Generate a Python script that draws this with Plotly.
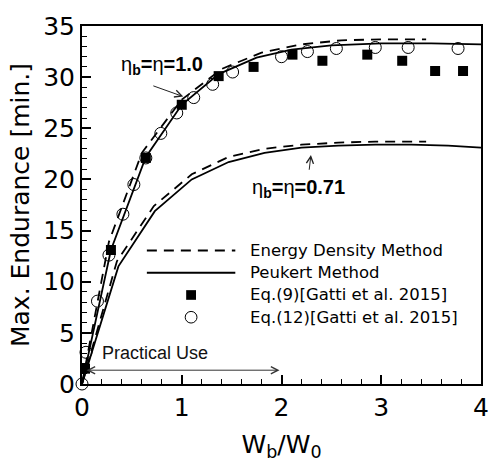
import plotly.graph_objects as go

# ---------------- data ----------------
# Eq.(9) [Gatti et al. 2015]  (filled squares)
eq9_x = [0.03, 0.29, 0.64, 1.00, 1.37, 1.72, 2.11, 2.41, 2.86, 3.21, 3.54, 3.82]
eq9_y = [1.5, 13.1, 22.1, 27.3, 30.1, 31.0, 32.2, 31.6, 32.2, 31.6, 30.6, 30.6]

# Eq.(12) [Gatti et al. 2015]  (open circles)
eq12_x = [0.0, 0.04, 0.155, 0.27, 0.41, 0.52, 0.64, 0.79, 0.95, 1.12, 1.31, 1.51,
          2.00, 2.26, 2.55, 2.94, 3.27, 3.77]
eq12_y = [0.0, 3.1, 8.1, 12.6, 16.6, 19.5, 22.1, 24.5, 26.5, 28.0, 29.3, 30.5,
          32.0, 32.5, 32.8, 32.9, 32.9, 32.8]

# Peukert method, eta_b = eta = 1.0 (solid)
pk1_x = [0.0, 0.29, 0.64, 1.00, 1.37, 1.75, 2.10, 2.50, 3.00, 3.50, 4.00]
pk1_y = [0.0, 13.1, 22.2, 27.3, 30.3, 31.9, 32.7, 33.1, 33.3, 33.3, 33.2]

# Energy density method, eta_b = eta = 1.0 (dashed)
ed1_x = [0.0, 0.27, 0.60, 1.00, 1.40, 1.80, 2.20, 2.60, 3.00, 3.45]
ed1_y = [0.0, 13.9, 22.6, 27.8, 30.8, 32.4, 33.2, 33.6, 33.7, 33.7]

# Peukert method, eta_b = eta = 0.71 (solid)
pk2_x = [0.0, 0.365, 0.73, 1.10, 1.47, 1.83, 2.20, 2.57, 2.94, 3.30, 3.67, 4.00]
pk2_y = [0.0, 11.5, 16.9, 20.0, 21.7, 22.6, 23.1, 23.3, 23.4, 23.4, 23.3, 23.1]

# Energy density method, eta_b = eta = 0.71 (dashed)
ed2_x = [0.0, 0.35, 0.72, 1.10, 1.47, 1.83, 2.20, 2.57, 2.94, 3.30, 3.45]
ed2_y = [0.0, 12.0, 17.4, 20.5, 22.2, 23.0, 23.4, 23.6, 23.7, 23.7, 23.7]

legend_labels = ["Energy Density Method", "Peukert Method",
                 "Eq.(9)[Gatti et al. 2015]", "Eq.(12)[Gatti et al. 2015]"]

x_ticks = [0, 1, 2, 3, 4]
y_ticks = [0, 5, 10, 15, 20, 25, 30, 35]

# ---------------- figure ----------------
W, H = 501, 466
ML, MR, MT, MB = 82, 13, 15, 81
PW, PH = W - ML - MR, H - MT - MB

def px(xp):
    return (xp - ML) / PW

def py(yp):
    return (MT + PH - yp) / PH

DASH = "10px,7px"
LW = 1.8

fig = go.Figure()
fig.add_trace(go.Scatter(x=ed1_x, y=ed1_y, mode="lines", line=dict(color="black", width=LW, dash=DASH), showlegend=False))
fig.add_trace(go.Scatter(x=pk1_x, y=pk1_y, mode="lines", line=dict(color="black", width=LW), showlegend=False))
fig.add_trace(go.Scatter(x=ed2_x, y=ed2_y, mode="lines", line=dict(color="black", width=LW, dash=DASH), showlegend=False))
fig.add_trace(go.Scatter(x=pk2_x, y=pk2_y, mode="lines", line=dict(color="black", width=LW), showlegend=False))
fig.add_trace(go.Scatter(x=eq12_x, y=eq12_y, mode="markers",
                         marker=dict(symbol="circle-open", size=12, color="black", line=dict(width=1)),
                         showlegend=False, cliponaxis=False))
fig.add_trace(go.Scatter(x=eq9_x, y=eq9_y, mode="markers",
                         marker=dict(symbol="square", size=10, color="black"),
                         showlegend=False, cliponaxis=False))

# manual legend (long line samples as in the reference)
rows = [247, 270, 293, 316]
shapes = []
shapes.append(dict(type="line", xref="paper", yref="paper", x0=px(148), x1=px(238), y0=py(rows[0]), y1=py(rows[0]),
                   line=dict(color="black", width=LW, dash=DASH)))
shapes.append(dict(type="line", xref="paper", yref="paper", x0=px(148), x1=px(238), y0=py(rows[1]), y1=py(rows[1]),
                   line=dict(color="black", width=LW)))
shapes.append(dict(type="rect", xref="paper", yref="paper", x0=px(188), x1=px(198), y0=py(rows[2] - 5), y1=py(rows[2] + 5),
                   fillcolor="black", line=dict(width=0)))
shapes.append(dict(type="circle", xref="paper", yref="paper", x0=px(187), x1=px(199), y0=py(rows[3] - 6), y1=py(rows[3] + 6),
                   fillcolor="white", line=dict(color="black", width=1)))

annotations = []
for lab, r in zip(legend_labels, rows):
    annotations.append(dict(text=lab, xref="paper", yref="paper", x=px(251), y=py(r), xanchor="left", yanchor="middle",
                            showarrow=False, font=dict(family="DejaVu Sans", size=16.5, color="black")))

ann_font = dict(family="Liberation Sans, Arial", size=20, color="black")
annotations.append(dict(text="η<sub><b>b</b></sub><b>=</b>η<b>=1.0</b>", x=0.80, y=31.1, xref="x", yref="y",
                        showarrow=False, font=ann_font))
annotations.append(dict(text="η<sub><b>b</b></sub><b>=</b>η<b>=0.71</b>", x=2.17, y=19.1, xref="x", yref="y",
                        showarrow=False, font=ann_font))
# arrows
annotations.append(dict(text="", x=1.015, y=28.1, ax=0.70, ay=29.2, xref="x", yref="y", axref="x", ayref="y",
                        showarrow=True, arrowhead=5, arrowsize=1.4, arrowwidth=1, arrowcolor="#222"))
annotations.append(dict(text="", x=2.295, y=22.4, ax=2.276, ay=20.8, xref="x", yref="y", axref="x", ayref="y",
                        showarrow=True, arrowhead=5, arrowsize=1.4, arrowwidth=1, arrowcolor="#222"))
annotations.append(dict(text="", x=1.98, y=1.35, ax=0.03, ay=1.35, xref="x", yref="y", axref="x", ayref="y",
                        showarrow=True, arrowhead=5, startarrowhead=5, arrowside="end+start",
                        arrowsize=1.4, startarrowsize=1.4, arrowwidth=1, arrowcolor="#333"))
annotations.append(dict(text="Practical Use", x=0.177, y=3.0, xref="x", yref="y", xanchor="left", yanchor="middle",
                        showarrow=False, font=dict(family="Liberation Sans, Arial", size=18, color="#111")))

tick_font = dict(family="DejaVu Sans", size=25, color="black")
fig.update_layout(
    width=W, height=H,
    margin=dict(l=ML, r=MR, t=MT, b=MB),
    paper_bgcolor="white", plot_bgcolor="white",
    showlegend=False,
    shapes=shapes, annotations=annotations,
    xaxis=dict(range=[0, 4], tickvals=x_ticks, ticktext=[str(v) for v in x_ticks],
               showline=True, linecolor="black", linewidth=2, mirror=True,
               ticks="inside", ticklen=9, tickwidth=2, tickcolor="black",
               minor=dict(dtick=0.2, ticks="inside", ticklen=5, tickwidth=1, tickcolor="black"),
               showgrid=False, zeroline=False, tickfont=tick_font,
               title=dict(text="W<sub>b</sub>/W<sub>0</sub>", font=dict(family="DejaVu Sans", size=25, color="black"), standoff=14)),
    yaxis=dict(range=[0, 35], tickvals=y_ticks, ticktext=[str(v) for v in y_ticks],
               showline=True, linecolor="black", linewidth=2, mirror=True,
               ticks="inside", ticklen=9, tickwidth=2, tickcolor="black",
               minor=dict(dtick=1, ticks="inside", ticklen=5, tickwidth=1, tickcolor="black"),
               showgrid=False, zeroline=False, tickfont=tick_font,
               title=dict(text="Max. Endurance [min.]", font=dict(family="DejaVu Sans", size=25, color="black"), standoff=6)),
)

fig.write_html("out.html")
